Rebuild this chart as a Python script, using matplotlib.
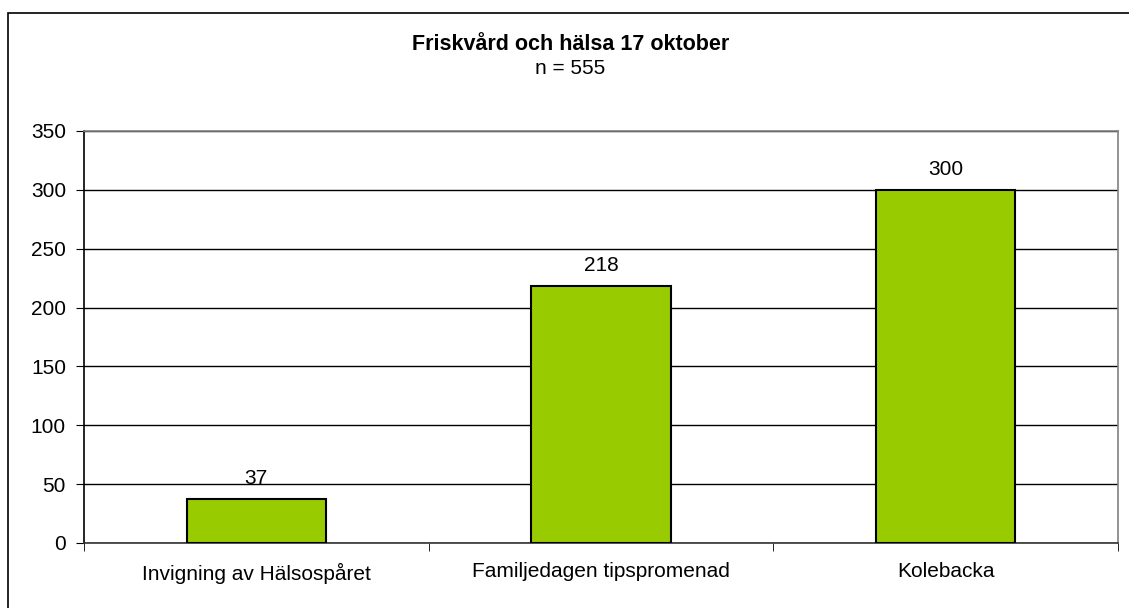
import matplotlib.pyplot as plt
from matplotlib.patches import Rectangle
import numpy as np

plt.rcParams['font.family'] = ['Liberation Sans', 'DejaVu Sans']

categories = ['Invigning av Hälsospåret', 'Familjedagen tipspromenad', 'Kolebacka']
values = [37, 218, 300]
yticks = [0, 50, 100, 150, 200, 250, 300, 350]

fig = plt.figure(figsize=(11.29, 6.08), dpi=100)
ax = fig.add_axes([84/1129, 1-543/608, (1118-84)/1129, (543-131)/608])

# frame around the whole chart area (cut off at right and bottom like the original)
fig.patches.append(Rectangle((8/1129, -0.2), 1.3, 1.2-13/608 , transform=fig.transFigure,
                             fill=False, edgecolor='black', linewidth=1.2, clip_on=False))

x = np.arange(len(categories))
bars = ax.bar(x, values, width=0.405, color='#99CC00', edgecolor='black', linewidth=1.5, zorder=3)

for xi, v in zip(x, values):
    ax.annotate(str(v), (xi, v), xytext=(0, 8), textcoords='offset points',
                ha='center', va='bottom', fontsize=15)

ax.set_xlim(-0.5, 2.5)
ax.set_ylim(0, 350)
ax.set_yticks(yticks)
ax.set_yticklabels([str(t) for t in yticks], fontsize=15)
ax.yaxis.grid(True, color='black', linewidth=1, zorder=0)
ax.set_axisbelow(True)

ax.set_xticks(x)
ax.set_xticklabels(categories, fontsize=15)
ax.tick_params(axis='x', which='major', length=0, pad=14)
ax.set_xticks([-0.5, 0.5, 1.5, 2.5], minor=True)
ax.tick_params(axis='x', which='minor', length=6, color='black', direction='out')
ax.tick_params(axis='y', length=6, color='black', direction='out', pad=7)

for s in ['top', 'right']:
    ax.spines[s].set_color('#808080')
    ax.spines[s].set_linewidth(1.2)
ax.spines['left'].set_color('black')
ax.spines['bottom'].set_color('#333333')
ax.spines['left'].set_linewidth(1.2)
ax.spines['bottom'].set_linewidth(1.2)

fig.text(0.505, 1-45/608, 'Friskvård och hälsa 17 oktober', ha='center', va='center',
         fontsize=15.5, fontweight='bold')
fig.text(0.505, 1-68/608, 'n = 555', ha='center', va='center', fontsize=15)

fig.savefig('out.png', dpi=100)
